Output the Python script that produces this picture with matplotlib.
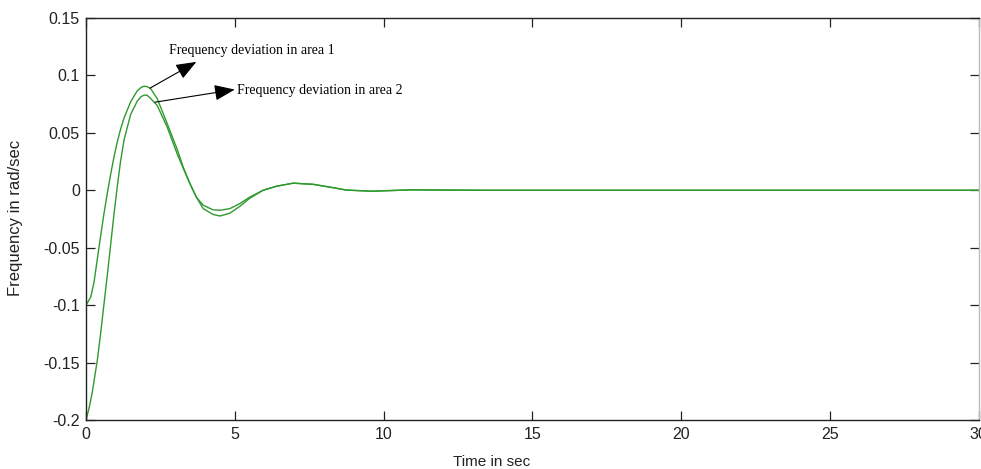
import matplotlib
matplotlib.use("Agg")
import matplotlib.pyplot as plt

# ---- data ----
t_area1 = [0.00, 0.16, 0.27, 0.38, 0.49, 0.60, 0.72, 0.83, 0.94, 1.05, 1.16, 1.28,
           1.50, 1.72, 1.85, 1.95, 2.05, 2.17, 2.39, 2.73, 3.06, 3.27, 3.49, 3.71,
           3.94, 4.27, 4.50, 4.83, 5.17, 5.50, 5.95, 6.40, 6.96, 7.63, 8.30, 8.75,
           9.60, 10.97, 12.0, 13.5, 15.0, 20.0, 25.0, 30.0]
f_area1 = [-0.100, -0.093, -0.080, -0.060, -0.040, -0.021, -0.002, 0.014, 0.029, 0.042,
           0.053, 0.063, 0.077, 0.0865, 0.0895, 0.0906, 0.0903, 0.0886, 0.080, 0.058,
           0.036, 0.020, 0.006, -0.006, -0.016, -0.021, -0.0224, -0.020, -0.014, -0.007,
           0.000, 0.0035, 0.0062, 0.0052, 0.0023, 0.0002, -0.0008, 0.0004, 0.0002, 0.0,
           0.0, 0.0, 0.0, 0.0]

t_area2 = [0.00, 0.10, 0.21, 0.38, 0.49, 0.60, 0.72, 0.83, 0.94, 1.05, 1.16, 1.28,
           1.50, 1.72, 1.85, 1.95, 2.05, 2.17, 2.39, 2.73, 3.06, 3.27, 3.49, 3.71,
           3.94, 4.27, 4.50, 4.83, 5.17, 5.50, 5.95, 6.40, 6.96, 7.63, 8.30, 8.75,
           9.60, 10.97, 12.0, 13.5, 15.0, 20.0, 25.0, 30.0]
f_area2 = [-0.200, -0.190, -0.176, -0.148, -0.125, -0.100, -0.073, -0.047, -0.021, 0.003,
           0.025, 0.044, 0.066, 0.0775, 0.0815, 0.0828, 0.0828, 0.080, 0.074, 0.055,
           0.032, 0.019, 0.006, -0.006, -0.013, -0.017, -0.0174, -0.016, -0.0116, -0.006,
           0.000, 0.0035, 0.0062, 0.0052, 0.0023, 0.0002, -0.0008, 0.0004, 0.0002, 0.0,
           0.0, 0.0, 0.0, 0.0]

x_ticks = [0, 5, 10, 15, 20, 25, 30]
y_ticks = [-0.2, -0.15, -0.1, -0.05, 0, 0.05, 0.1, 0.15]
y_tick_labels = ["-0.2", "-0.15", "-0.1", "-0.05", "0", "0.05", "0.1", "0.15"]

label1 = "Frequency deviation in area 1"
label2 = "Frequency deviation in area 2"

# ---- figure ----
fig = plt.figure(figsize=(9.81, 4.69), dpi=100)
ax = fig.add_axes([86 / 981, 49 / 469, 892.5 / 981, 402 / 469])

green = "#2e9a2e"
ax.plot(t_area1, f_area1, color=green, lw=1.0)
ax.plot(t_area2, f_area2, color=green, lw=1.0)

ax.set_xlim(0, 30)
ax.set_ylim(-0.2, 0.15)
ax.set_xticks(x_ticks)
ax.set_xticklabels([str(v) for v in x_ticks])
ax.set_yticks(y_ticks)
ax.set_yticklabels(y_tick_labels)

for lab in ax.get_xticklabels() + ax.get_yticklabels():
    lab.set_fontfamily("Liberation Sans")
    lab.set_fontsize(11.5)

ax.tick_params(direction="in", length=6.5, width=0.9, color="#222222",
               top=True, right=True, labelcolor="#222222")
ax.tick_params(axis="x", pad=5)
ax.tick_params(axis="y", pad=4.5)

for side, sp in ax.spines.items():
    sp.set_linewidth(1.0)
    sp.set_color("#222222")
ax.spines["right"].set_color("#bbbbbb")

ax.set_xlabel("Time in sec", fontfamily="Liberation Sans", fontsize=11, color="#222222")
ax.set_ylabel("Frequency in rad/sec", fontfamily="Liberation Sans", fontsize=12, color="#222222")
ax.xaxis.set_label_coords(0.454, -0.088)
ax.yaxis.set_label_coords(-0.0705, 0.5025)

arrow_kw = dict(arrowstyle="-|>,head_length=0.9,head_width=0.35", color="black",
                lw=0.8, mutation_scale=14, shrinkA=0, shrinkB=0)
ax.annotate("", xy=(3.71, 0.1118), xytext=(2.15, 0.0889), arrowprops=arrow_kw)
ax.annotate("", xy=(5.0, 0.0877), xytext=(2.32, 0.0767), arrowprops=arrow_kw)

ax.text(2.80, 0.122, label1, fontfamily="Liberation Serif", fontsize=10,
        ha="left", va="center", color="black")
ax.text(5.06, 0.0871, label2, fontfamily="Liberation Serif", fontsize=10,
        ha="left", va="center", color="black")

fig.savefig("out.png", dpi=100)
